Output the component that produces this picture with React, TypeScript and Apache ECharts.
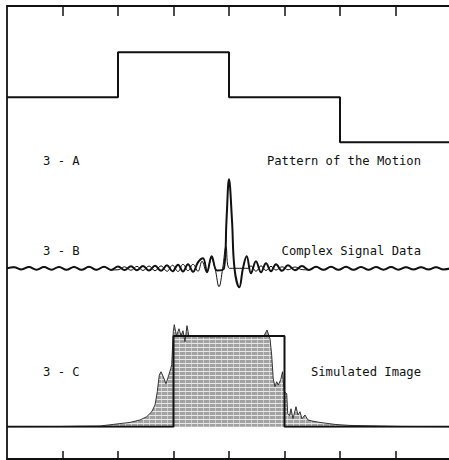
import React, { useEffect, useRef } from "react";
import * as echarts from "echarts";

// x axis runs 0..8 (tick marks at each unit; the right end falls just past the picture)
const xMin = 0;
const xMax = 8;
const tickValues = [1, 2, 3, 4, 5, 6, 7];

// 3-A: pattern of the motion (step levels between breakpoints)
const motionX = [0, 2, 4, 6, 8];
const motionLevel = [0, 1, 0, -1, -1];

// 3-B: complex signal data (extrema)
const signalThickX = [
  0, 0.126, 0.261, 0.396, 0.532, 0.667, 0.802, 0.937, 1.072, 1.207, 1.342, 1.477, 1.613, 1.748, 1.874,
  2.0, 2.117, 2.234, 2.342, 2.45, 2.559, 2.667, 2.775, 2.883, 2.982, 3.081, 3.171, 3.261, 3.351, 3.441,
  3.532, 3.604, 3.688, 3.784, 3.91, 3.955, 4.0, 4.054, 4.099, 4.186, 4.252, 4.319, 4.396, 4.486, 4.577,
  4.667, 4.757, 4.847, 4.955, 5.063, 5.189, 5.315, 5.441, 5.568, 5.703, 5.838, 5.973, 6.108, 6.243,
  6.378, 6.514, 6.649, 6.784, 6.919, 7.054, 7.189, 7.324, 7.459, 7.595, 7.73, 7.865, 8,
];
const signalThickY = [
  0, 0.013, -0.013, 0.015, -0.015, 0.015, -0.015, 0.016, -0.016, 0.016, -0.017, 0.017, -0.017, 0.018, -0.018,
  0.02, -0.02, 0.022, -0.022, 0.025, -0.026, 0.028, -0.028, 0.034, -0.034, 0.04, -0.036, 0.045, -0.04, 0.067,
  0.112, -0.045, 0.135, -0.025, 0, 0.54, 1.0, 0.54, 0, -0.213, 0, 0.135, -0.056, 0.079, -0.045,
  0.056, -0.034, 0.045, -0.028, 0.034, -0.022, 0.025, -0.018, 0.017, -0.017, 0.017, -0.017, 0.017, -0.017,
  0.016, -0.016, 0.015, -0.015, 0.015, -0.015, 0.013, -0.013, 0.013, -0.013, 0.013, -0.013, 0,
];
const signalThinX = [
  0, 0.126, 0.261, 0.396, 0.532, 0.667, 0.802, 0.937, 1.072, 1.207, 1.342, 1.477, 1.613, 1.748, 1.874,
  2.0, 2.117, 2.234, 2.342, 2.45, 2.559, 2.667, 2.775, 2.883, 2.982, 3.081, 3.171, 3.261, 3.351, 3.441,
  3.514, 3.595, 3.685, 3.748, 3.82, 3.886, 3.946, 4.009, 4.342, 4.396, 4.486, 4.577, 4.667, 4.757, 4.847,
  4.955, 5.063, 5.189, 5.315, 5.441, 5.568, 5.703, 5.838, 5.973, 6.108, 6.243, 6.378, 6.514, 6.649, 6.784,
  6.919, 7.054, 7.189, 7.324, 7.459, 7.595, 7.73, 7.865, 8,
];
const signalThinY = [
  0, 0.013, -0.013, 0.015, -0.015, 0.015, -0.015, 0.016, -0.016, 0.016, -0.017, 0.017, -0.017, 0.018, -0.018,
  -0.017, 0.017, -0.022, 0.022, -0.025, 0.026, -0.028, 0.028, -0.034, 0.034, -0.036, 0.045, -0.028, 0.045, -0.034,
  0.079, -0.04, 0.11, 0, -0.207, 0, 0.243, 0, 0, 0.028, -0.034, 0.028, -0.025, 0.022, -0.02,
  0.017, -0.017, 0.015, -0.015, -0.017, 0.017, -0.017, 0.017, -0.017, 0.017, -0.017, 0.016, -0.016, 0.015, -0.015,
  0.015, -0.015, 0.013, -0.013, 0.013, -0.013, 0.013, -0.013, 0,
];

// 3-C: simulated image (grey profile) and the true object (rectangle)
const imageX = [
  0, 0.955, 1.315, 1.676, 1.91, 2.216, 2.396, 2.517, 2.607, 2.667, 2.708, 2.744, 2.775, 2.816, 2.865,
  2.906, 2.95, 2.968, 2.996, 3.014, 3.054, 3.099, 3.135, 3.171, 3.207, 3.243, 3.279, 3.333, 3.477, 3.838,
  4.198, 4.559, 4.631, 4.685, 4.739, 4.769, 4.797, 4.829, 4.859, 4.888, 4.932, 4.964, 4.996, 5.04, 5.058,
  5.09, 5.117, 5.153, 5.207, 5.243, 5.279, 5.315, 5.369, 5.423, 5.495, 5.64, 5.91, 6.18, 6.72, 7.08, 8,
];
const imageY = [
  0, 0.002, 0.006, 0.008, 0.025, 0.047, 0.074, 0.11, 0.165, 0.239, 0.386, 0.57, 0.606, 0.551, 0.474,
  0.551, 0.64, 0.684, 1.047, 1.125, 1.003, 1.08, 1.003, 1.058, 0.937, 1.114, 0.992, 1.003, 0.992, 0.992,
  0.995, 0.992, 1.003, 1.066, 0.97, 0.79, 0.529, 0.441, 0.496, 0.46, 0.518, 0.606, 0.386, 0.364, 0.143,
  0.121, 0.198, 0.088, 0.22, 0.129, 0.165, 0.088, 0.129, 0.074, 0.063, 0.047, 0.025, 0.014, 0.008, 0.003, 0,
];
const objectX = [0, 3, 5, 8];
const objectLevel = [0, 1, 0, 0];

const labels = [
  { left: "3 - A", right: "Pattern of the Motion", y: 161 },
  { left: "3 - B", right: "Complex Signal Data", y: 251 },
  { left: "3 - C", right: "Simulated Image", y: 372 },
];

// white strips along the open right edge (between the traces)
const edgeBands = [
  [17, 138],
  [147, 262],
  [274, 421],
  [432, 450],
];

const zip = (xs: number[], ys: number[]) => xs.map((x, i) => [x, ys[i]]);

function makeHatch(): HTMLCanvasElement | string {
  const c = document.createElement("canvas");
  c.width = 6;
  c.height = 4;
  const g = c.getContext("2d");
  if (!g) return "#a8a8a8";
  g.fillStyle = "#a2a2a2";
  g.fillRect(0, 0, 6, 4);
  g.fillStyle = "rgba(255,255,255,0.75)";
  g.fillRect(0, 3, 6, 1);
  g.fillStyle = "rgba(255,255,255,0.45)";
  g.fillRect(5, 0, 1, 3);
  return c;
}

export default function App() {
  const ref = useRef<HTMLDivElement>(null);
  useEffect(() => {
    if (!ref.current) return;
    const chart = echarts.init(ref.current, null, { renderer: "svg" });
    const ink = "#111";
    const font = "DejaVu Sans Mono";
    const hatch = makeHatch();
    const areaColor =
      typeof hatch === "string" ? hatch : { image: hatch, repeat: "repeat" as const };
    const hiddenX = (gridIndex: number) => ({
      type: "value" as const,
      gridIndex,
      min: xMin,
      max: xMax,
      show: false,
    });
    const hiddenY = (gridIndex: number, min: number, max: number) => ({
      type: "value" as const,
      gridIndex,
      min,
      max,
      show: false,
    });
    const frameX = (position: "top" | "bottom", len: number) => ({
      type: "value" as const,
      gridIndex: 0,
      position,
      min: xMin,
      max: xMax,
      interval: 1,
      axisLine: { show: true, onZero: false, lineStyle: { color: ink, width: 1.8 } },
      axisTick: {
        show: true,
        inside: true,
        length: len,
        customValues: tickValues,
        lineStyle: { color: ink, width: 1.5 },
      },
      axisLabel: { show: false },
      splitLine: { show: false },
    });
    chart.setOption({
      animation: false,
      backgroundColor: "#ffffff",
      grid: [
        { left: 7, right: 1, top: 6, bottom: 1 },
        { left: 7, right: 1, top: 7.3, bottom: 272.7 },
        { left: 7, right: 1, top: 179.3, bottom: 102.7 },
        { left: 7, right: 1, top: 317.86, bottom: 33.3 },
      ],
      xAxis: [frameX("top", 10), frameX("bottom", 8), hiddenX(1), hiddenX(2), hiddenX(3)],
      yAxis: [
        {
          type: "value",
          gridIndex: 0,
          position: "left",
          min: 0,
          max: 1,
          axisLine: { show: true, onZero: false, lineStyle: { color: ink, width: 1.8 } },
          axisTick: { show: false },
          axisLabel: { show: false },
          splitLine: { show: false },
        },
        hiddenY(1, -2, 2),
        hiddenY(2, -1, 1),
        hiddenY(3, 0, 1.2),
      ],
      series: [
        {
          type: "line",
          xAxisIndex: 2,
          yAxisIndex: 1,
          step: "end",
          data: zip(motionX, motionLevel),
          showSymbol: false,
          lineStyle: { color: ink, width: 2 },
        },
        {
          type: "line",
          xAxisIndex: 3,
          yAxisIndex: 2,
          smooth: 0.4,
          data: zip(signalThinX, signalThinY),
          showSymbol: false,
          clip: false,
          lineStyle: { color: ink, width: 1 },
        },
        {
          type: "line",
          xAxisIndex: 3,
          yAxisIndex: 2,
          smooth: 0.4,
          data: zip(signalThickX, signalThickY),
          showSymbol: false,
          clip: false,
          lineStyle: { color: ink, width: 2 },
        },
        {
          type: "line",
          xAxisIndex: 4,
          yAxisIndex: 3,
          data: zip(imageX, imageY),
          showSymbol: false,
          clip: false,
          lineStyle: { color: "#222", width: 0.9 },
          areaStyle: { color: areaColor, opacity: 1 },
        },
        {
          type: "line",
          xAxisIndex: 4,
          yAxisIndex: 3,
          step: "end",
          data: zip(objectX, objectLevel),
          showSymbol: false,
          lineStyle: { color: ink, width: 2 },
        },
      ],
      graphic: [
        ...edgeBands.map(([y1, y2]) => ({
          type: "rect",
          z: 100,
          shape: { x: 446, y: y1, width: 6, height: y2 - y1 },
          style: { fill: "#ffffff" },
        })),
        ...labels.flatMap((l) => [
          {
            type: "text",
            x: 43,
            y: l.y,
            style: { text: l.left, font: `12.2px '${font}'`, fill: ink, textAlign: "left", verticalAlign: "middle" },
          },
          {
            type: "text",
            x: 421,
            y: l.y,
            style: { text: l.right, font: `12.2px '${font}'`, fill: ink, textAlign: "right", verticalAlign: "middle" },
          },
        ]),
      ],
    });
    return () => chart.dispose();
  }, []);
  return (
    <div
      ref={ref}
      style={{ position: "fixed", left: 0, top: 0, width: 452, height: 460, background: "#fff" }}
    />
  );
}
